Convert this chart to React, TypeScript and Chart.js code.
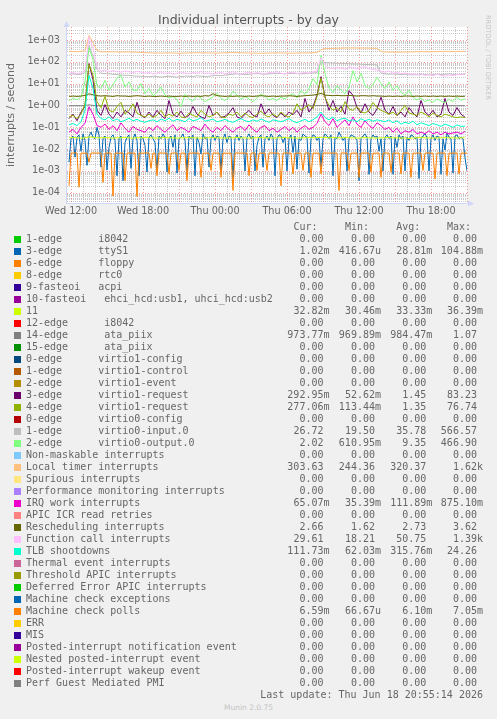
import React, { useEffect, useRef } from "react";
import { Chart, registerables } from "chart.js";

Chart.register(...registerables);

// ---- time axis (hours since Wed 00:00) ----
const X_MIN = 11 + 40 / 60; // Wed 11:40
const X_MAX = 45; // Thu 21:00
const TIME_START = 11 + 50 / 60; // first sample Wed 11:50
const STEP_HOURS = 1 / 3; // coarse series: one sample every 20 minutes
const FINE_STEP_HOURS = 1 / 6; // fine series: one sample every 10 minutes
const xTickHours = [12, 18, 24, 30, 36, 42];
const xTickLabels = ["Wed 12:00", "Wed 18:00", "Thu 00:00", "Thu 06:00", "Thu 12:00", "Thu 18:00"];

// ---- value axis ----
const Y_MIN = 3.4e-5;
const Y_MAX = 3.95e3;
const yTickValues = [1e-4, 1e-3, 1e-2, 1e-1, 1, 10, 100, 1000];
const yTickLabels = ["1e-04", "1e-03", "1e-02", "1e-01", "1e+00", "1e+01", "1e+02", "1e+03"];

// ---- series (interrupts / second) ----
// 10-minute samples
const ttyS1Values = [
  0.0025, 0.03, 0.04, 0.0043, 0.035, 0.045, 0.008, 0.05, 0.025, 0.0018,
  0.04, 0.06, 0.035, 0.03, 0.1, 0.045, 0.0015, 0.03, 0.04, 0.0011,
  0.012, 0.035, 0.045, 0.025, 0.0006, 0.03, 0.04, 0.00036, 0.02, 0.035,
  0.045, 0.0013, 0.03, 0.05, 0.025, 0.0006, 0.04, 0.03, 0.015, 0.0009,
  0.035, 0.045, 0.03, 0.02, 0.001, 0.04, 0.03, 0.05, 0.035, 0.0009,
  0.03, 0.04, 0.012, 0.045, 0.0008, 0.03, 0.035, 0.05, 0.025, 0.001,
  0.04, 0.03, 0.045, 0.0006, 0.035, 0.02, 0.006, 0.05, 0.03, 0.035,
  0.0015, 0.03, 0.045, 0.025, 0.04, 0.035, 0.001, 0.03, 0.05, 0.02,
  0.04, 0.035, 0.00045, 0.03, 0.045, 0.025, 0.04, 0.03, 0.001, 0.035,
  0.05, 0.03, 0.04, 0.001, 0.015, 0.035, 0.045, 0.0015, 0.03, 0.04,
  0.025, 0.05, 0.035, 0.0006, 0.03, 0.045, 0.04, 0.02, 0.035, 0.001,
  0.03, 0.045, 0.007, 0.04, 0.0012, 0.03, 0.025, 0.05, 0.04, 0.035,
  0.0008, 0.03, 0.045, 0.04, 0.025, 0.035, 0.0015, 0.03, 0.05, 0.04,
  0.03, 0.045, 0.0006, 0.035, 0.03, 0.06, 0.04, 0.025, 0.035, 0.001,
  0.03, 0.045, 0.04, 0.035, 0.025, 0.00036, 0.03, 0.04, 0.05, 0.035,
  0.0007, 0.03, 0.045, 0.035, 0.04, 0.008, 0.03, 0.001, 0.035, 0.045,
  0.03, 0.04, 0.0007, 0.035, 0.012, 0.045, 0.03, 0.04, 0.001, 0.035,
  0.025, 0.045, 0.04, 0.03, 0.035, 0.00045, 0.03, 0.04, 0.05, 0.035,
  0.001, 0.03, 0.045, 0.025, 0.04, 0.035, 0.0007, 0.03, 0.009, 0.055,
  0.035, 0.03, 0.0008, 0.04, 0.045, 0.03, 0.035, 0.03, 0.004, 0.00102,
];
const mcePollValues = [
  0.00021, 0.0066, 0.0066, 0.0067, 0.0066, 0.00018, 0.0066, 0.0066, 0.0065, 0.0066,
  0.0025, 0.0066, 0.0067, 0.0066, 0.0066, 0.0066, 0.0065, 0.0003, 0.0066, 0.0066,
  0.0067, 0.0066, 0.00007, 0.0066, 0.0066, 0.0065, 0.0066, 0.0066, 0.00036, 0.0066,
  0.0067, 0.0066, 0.0066, 0.0066, 0.000067, 0.0066, 0.0065, 0.0066, 0.0066, 0.0067,
  0.0066, 0.0013, 0.0066, 0.0066, 0.00061, 0.0066, 0.0067, 0.0066, 0.0066, 0.0065,
  0.00073, 0.0066, 0.0066, 0.0067, 0.0066, 0.00105, 0.0066, 0.0066, 0.0065, 0.00036,
  0.0066, 0.0066, 0.0067, 0.0066, 0.0066, 0.0066, 0.00051, 0.0066, 0.0065, 0.0066,
  0.0066, 0.00105, 0.0066, 0.0067, 0.0066, 0.0066, 0.00051, 0.0066, 0.0066, 0.0065,
  0.0066, 0.0066, 0.000127, 0.0066, 0.0067, 0.0066, 0.0066, 0.0066, 0.0065, 0.0066,
  0.00061, 0.0066, 0.0067, 0.0066, 0.00105, 0.0066, 0.0066, 0.0065, 0.0066, 0.00105,
  0.0066, 0.0067, 0.0066, 0.0066, 0.0066, 0.0065, 0.00021, 0.0066, 0.0066, 0.0067,
  0.0066, 0.0066, 0.00073, 0.0066, 0.0065, 0.0066, 0.0066, 0.00105, 0.0066, 0.0067,
  0.0066, 0.00051, 0.0066, 0.0066, 0.0065, 0.0066, 0.00073, 0.0066, 0.0067, 0.0066,
  0.0066, 0.0066, 0.0065, 0.0066, 0.0066, 0.000127, 0.0066, 0.0067, 0.0066, 0.0066,
  0.00105, 0.0066, 0.0065, 0.0066, 0.0066, 0.00051, 0.0066, 0.0067, 0.0066, 0.0066,
  0.0066, 0.00087, 0.0066, 0.0065, 0.0066, 0.0066, 0.00051, 0.0066, 0.0067, 0.0066,
  0.0066, 0.00087, 0.0066, 0.0065, 0.0066, 0.0066, 0.00073, 0.0066, 0.0067, 0.0066,
  0.0066, 0.00051, 0.0066, 0.0065, 0.0066, 0.0066, 0.0066, 0.00105, 0.0066, 0.0067,
  0.0066, 0.0066, 0.0065, 0.00043, 0.0066, 0.0066, 0.0067, 0.0066, 0.0066, 0.00061,
  0.0066, 0.0065, 0.0066, 0.0066, 0.0067, 0.00073, 0.0066, 0.0066, 0.0066, 0.00659,
];
// 20-minute samples
const irq11Values = [
  0.033, 0.034, 0.033, 0.032, 0.033, 0.0364, 0.035, 0.033, 0.033, 0.034,
  0.033, 0.032, 0.033, 0.033, 0.034, 0.033, 0.032, 0.033, 0.033, 0.034,
  0.033, 0.033, 0.032, 0.033, 0.034, 0.033, 0.033, 0.032, 0.033, 0.033,
  0.034, 0.033, 0.033, 0.032, 0.033, 0.033, 0.034, 0.033, 0.033, 0.032,
  0.033, 0.033, 0.034, 0.033, 0.033, 0.032, 0.033, 0.033, 0.034, 0.033,
  0.033, 0.032, 0.033, 0.033, 0.034, 0.033, 0.033, 0.032, 0.033, 0.033,
  0.034, 0.033, 0.034, 0.035, 0.034, 0.033, 0.034, 0.033, 0.033, 0.034,
  0.033, 0.033, 0.032, 0.033, 0.034, 0.033, 0.033, 0.032, 0.033, 0.033,
  0.034, 0.033, 0.033, 0.032, 0.033, 0.0305, 0.033, 0.033, 0.034, 0.033,
  0.033, 0.032, 0.033, 0.033, 0.034, 0.033, 0.033, 0.032, 0.033, 0.0328,
];
const ataPiixValues = [
  0.98, 0.98, 0.98, 0.98, 0.99, 1.07, 1.0, 0.98, 0.98, 0.98,
  0.98, 0.98, 0.98, 0.97, 0.98, 0.98, 0.98, 0.98, 0.98, 0.98,
  0.98, 0.97, 0.98, 0.98, 0.98, 0.98, 0.98, 0.98, 0.97, 0.98,
  0.98, 0.98, 0.98, 0.98, 0.98, 0.98, 0.98, 0.98, 0.98, 0.97,
  0.98, 0.98, 0.98, 0.98, 0.98, 0.98, 0.98, 0.98, 0.98, 0.98,
  0.98, 0.98, 0.97, 0.98, 0.98, 0.98, 0.98, 0.98, 0.98, 0.98,
  0.98, 0.98, 0.99, 1.0, 0.99, 0.98, 0.98, 0.98, 0.98, 0.98,
  0.98, 0.98, 0.98, 0.98, 0.98, 0.98, 0.98, 0.98, 0.98, 0.97,
  0.98, 0.98, 0.98, 0.98, 0.98, 0.98, 0.98, 0.98, 0.98, 0.98,
  0.98, 0.98, 0.98, 0.97, 0.98, 0.98, 0.98, 0.98, 0.98, 0.974,
];
const virtio1Req3Values = [
  0.25, 0.4, 0.2, 0.5, 0.9, 83, 15, 0.6,
  0.35, 1.1, 0.4, 0.25, 0.5, 0.3, 0.6, 0.45, 0.3, 1.4, 0.35,
  0.28, 0.5, 0.3, 0.6, 0.35, 0.25, 1.7, 0.4, 0.3, 0.55,
  0.28, 0.35, 0.9, 0.4, 0.3, 0.25, 1.0, 0.35, 0.5, 0.28,
  0.32, 0.45, 0.8, 0.3, 0.25, 0.4, 0.6, 0.35, 0.3, 1.2,
  0.4, 0.7, 0.35, 0.28, 0.45, 0.3, 0.5, 0.38, 0.6, 0.3,
  2.1, 0.5, 0.9, 3, 21,
  2.5, 0.6, 1.7, 0.5, 0.9, 0.4, 4.8, 2.9, 0.8, 0.45, 1.2, 0.5, 0.35, 0.7,
  2.4, 0.6, 0.4, 0.9, 0.35, 0.5, 0.3, 0.8, 0.45, 0.3,
  1.7, 0.5, 0.35, 0.6, 0.3, 0.4, 2.1, 0.5, 0.35, 0.8, 0.4, 0.29,
];
const virtio1Req4Values = [
  0.3, 0.35, 0.25, 0.4, 1.2, 76, 25, 1.5,
  0.8, 2.6, 0.6, 0.5, 0.9, 1.4, 0.4, 0.6, 1.2, 0.45, 0.35,
  0.3, 0.4, 0.28, 0.35, 0.6, 0.3, 0.4, 0.32, 0.5, 0.3,
  0.27, 0.45, 0.35, 0.3, 0.6, 0.4, 0.3, 0.35, 0.5, 0.3,
  0.28, 0.4, 0.35, 0.5, 0.3, 0.45, 0.32, 0.28, 0.4, 0.55,
  0.35, 0.3, 0.42, 0.3, 0.5, 0.35, 0.3, 0.45, 1.2, 0.6,
  0.8, 1.1, 0.7, 2.5, 18,
  2.3, 1.0, 0.6, 0.8, 0.5, 1.5, 0.7, 0.6, 0.9, 0.5, 0.45, 0.6, 1.4, 0.8,
  0.6, 0.5, 0.4, 0.5, 0.35, 0.6, 1.0, 0.45, 0.4, 0.35,
  0.5, 0.4, 0.3, 0.45, 0.35, 0.3, 0.4, 0.35, 0.3, 0.28, 0.3, 0.277,
];
const virtio0InputValues = [
  27, 28, 26, 27, 32, 566, 180, 45,
  30, 29, 28, 27, 26, 25, 24, 24, 23, 22, 22,
  21, 21, 22, 21, 20, 21, 22, 21, 20, 21,
  22, 22, 21, 23, 22, 21, 22, 23, 24, 23,
  25, 26, 27, 28, 27, 26, 27, 28, 29, 28,
  27, 28, 29, 30, 29, 28, 29, 30, 29, 28,
  29, 30, 31, 32, 100,
  92, 90, 88, 86, 85, 84, 82, 80, 80, 78, 76, 75, 74, 72,
  30, 28, 27, 28, 27, 26, 27, 26, 25, 26,
  27, 26, 25, 26, 27, 26, 27, 28, 27, 26, 27, 26.7,
];
const virtio0OutputValues = [
  1.6, 2.2, 1.8, 2.5, 12, 466, 120, 8,
  6, 14, 5, 9, 18, 24, 7, 12, 5, 5, 10,
  3.5, 6, 2.8, 4, 7, 3, 2.2, 2.6, 1.8, 0.9,
  3.2, 2, 1.6, 2.8, 2.2, 1.5, 1.9, 2.5, 3.6, 2.1,
  1.7, 2.3, 4.5, 3, 1.9, 2.6, 2, 1.5, 2.2, 3.4,
  2.6, 1.8, 2.1, 1.7, 2.4, 2, 2.8, 3.5, 2.2, 4.8,
  3.2, 6, 17, 9, 200,
  30, 6, 4, 8, 5, 3.5, 7, 40, 12, 30, 8, 6, 9, 20,
  10, 6, 12, 5, 8, 4, 3, 5, 2.4, 1.8,
  2.2, 1.5, 1.8, 1.4, 2, 1.6, 1.3, 1.9, 1.5, 2.4, 1.7, 2.02,
];
const localTimerValues = [
  300, 296, 292, 298, 320, 1620, 760, 330,
  290, 286, 288, 292, 284, 280, 286, 282, 278, 276, 270,
  262, 258, 255, 252, 250, 254, 256, 252, 250, 248,
  252, 256, 258, 262, 260, 258, 256, 252, 250, 254,
  258, 262, 266, 264, 260, 256, 254, 250, 248, 246,
  250, 252, 255, 258, 256, 252, 250, 248, 252, 254,
  256, 258, 262, 265, 360,
  400, 410, 415, 420, 425, 428, 430, 432, 430, 428, 426, 424, 420, 415,
  300, 285, 280, 278, 276, 280, 282, 285, 288, 290,
  292, 290, 288, 292, 295, 298, 300, 302, 298, 300, 302, 303.6,
];
const irqWorkValues = [
  0.06, 0.08, 0.05, 0.1, 0.15, 0.875, 0.4, 0.12,
  0.1, 0.14, 0.08, 0.12, 0.07, 0.16, 0.09, 0.06, 0.11, 0.08, 0.07,
  0.06, 0.1, 0.07, 0.12, 0.08, 0.06, 0.09, 0.13, 0.07, 0.1,
  0.08, 0.06, 0.11, 0.09, 0.07, 0.14, 0.08, 0.06, 0.1, 0.07,
  0.12, 0.08, 0.06, 0.09, 0.11, 0.07, 0.13, 0.08, 0.06, 0.1,
  0.12, 0.07, 0.09, 0.06, 0.08, 0.11, 0.07, 0.1, 0.06, 0.09,
  0.12, 0.08, 0.1, 0.15, 0.4,
  0.18, 0.12, 0.25, 0.1, 0.15, 0.22, 0.12, 0.3, 0.14, 0.1, 0.2, 0.12, 0.09, 0.16,
  0.12, 0.08, 0.1, 0.06, 0.09, 0.05, 0.07, 0.06, 0.08, 0.05,
  0.06, 0.05, 0.07, 0.05, 0.06, 0.045, 0.06, 0.05, 0.055, 0.06, 0.05, 0.065,
];
const reschedValues = [
  2.6, 2.7, 2.6, 2.7, 2.9, 3.4, 3.1, 2.8,
  2.7, 2.8, 2.7, 2.6, 2.8, 2.7, 2.7, 2.6, 2.7, 2.8, 2.7,
  2.6, 2.7, 2.6, 2.6, 2.7, 2.6, 2.7, 2.6, 2.6, 2.7,
  2.6, 2.7, 2.6, 2.7, 2.6, 2.8, 2.7, 3.5, 2.8, 2.7,
  2.6, 2.7, 2.6, 2.7, 2.7, 2.6, 2.7, 2.6, 2.7, 2.8,
  2.7, 2.6, 2.7, 2.6, 2.7, 2.7, 2.8, 2.7, 2.6, 2.7,
  2.8, 2.9, 3.0, 3.2, 3.6,
  3.0, 2.9, 2.8, 2.9, 2.8, 2.8, 2.9, 2.8, 2.7, 2.8, 2.8, 2.7, 2.8, 2.7,
  2.7, 2.6, 2.7, 2.6, 2.7, 2.6, 2.7, 2.7, 2.6, 2.7,
  2.6, 2.7, 2.6, 2.7, 2.6, 2.7, 2.6, 2.7, 2.6, 2.7, 2.6, 2.66,
];
const funcCallValues = [
  30, 34, 28, 32, 40, 1390, 420, 60,
  38, 42, 35, 40, 36, 33, 38, 35, 32, 36, 34,
  30, 33, 28, 31, 35, 29, 32, 27, 30, 34,
  31, 28, 33, 30, 36, 29, 31, 27, 30, 33,
  28, 32, 35, 30, 27, 31, 34, 29, 32, 30,
  28, 33, 31, 36, 30, 28, 32, 34, 29, 31,
  33, 30, 35, 38, 160,
  70, 52, 48, 55, 50, 46, 58, 52, 48, 55, 60, 50, 45, 42,
  36, 33, 38, 30, 34, 28, 31, 27, 30, 25,
  28, 24, 26, 23, 27, 24, 22, 25, 23, 27, 25, 29.6,
];
const tlbValues = [
  0.13, 0.15, 0.12, 0.18, 0.6, 24, 6, 0.4,
  0.25, 0.22, 0.3, 0.2, 0.24, 0.18, 0.21, 0.26, 0.2, 0.23, 0.19,
  0.17, 0.2, 0.22, 0.18, 0.24, 0.2, 0.26, 0.19, 0.23, 0.21,
  0.18, 0.25, 0.2, 0.22, 0.28, 0.19, 0.21, 0.24, 0.18, 0.2,
  0.23, 0.19, 0.17, 0.21, 0.25, 0.2, 0.18, 0.22, 0.19, 0.24,
  0.2, 0.17, 0.22, 0.2, 0.18, 0.21, 0.25, 0.19, 0.16, 0.2,
  0.23, 0.18, 0.22, 0.3, 0.5,
  0.28, 0.22, 0.3, 0.2, 0.24, 0.26, 0.2, 0.22, 0.18, 0.25, 0.2, 0.23, 0.19, 0.22,
  0.2, 0.18, 0.22, 0.16, 0.2, 0.14, 0.17, 0.15, 0.19, 0.13,
  0.16, 0.14, 0.12, 0.15, 0.13, 0.11, 0.14, 0.12, 0.1, 0.13, 0.11, 0.112,
];

// ---- legend ----
const legendLabels = [
  "1-edge      i8042",
  "3-edge      ttyS1",
  "6-edge      floppy",
  "8-edge      rtc0",
  "9-fasteoi   acpi",
  "10-fasteoi   ehci_hcd:usb1, uhci_hcd:usb2",
  "11",
  "12-edge      i8042",
  "14-edge      ata_piix",
  "15-edge      ata_piix",
  "0-edge      virtio1-config",
  "1-edge      virtio1-control",
  "2-edge      virtio1-event",
  "3-edge      virtio1-request",
  "4-edge      virtio1-request",
  "0-edge      virtio0-config",
  "1-edge      virtio0-input.0",
  "2-edge      virtio0-output.0",
  "Non-maskable interrupts",
  "Local timer interrupts",
  "Spurious interrupts",
  "Performance monitoring interrupts",
  "IRQ work interrupts",
  "APIC ICR read retries",
  "Rescheduling interrupts",
  "Function call interrupts",
  "TLB shootdowns",
  "Thermal event interrupts",
  "Threshold APIC interrupts",
  "Deferred Error APIC interrupts",
  "Machine check exceptions",
  "Machine check polls",
  "ERR",
  "MIS",
  "Posted-interrupt notification event",
  "Nested posted-interrupt event",
  "Posted-interrupt wakeup event",
  "Perf Guest Mediated PMI",
];
const legendColors = [
  "#00CC00", "#0066B3", "#FF8000", "#FFCC00", "#330099", "#990099", "#CCFF00", "#FF0000",
  "#808080", "#008F00", "#00487D", "#B35A00", "#B38F00", "#6B006B", "#8FB300", "#B30000",
  "#BEBEBE", "#80FF80", "#80C9FF", "#FFC080", "#FFE680", "#AA80FF", "#EE00CC", "#FF8080",
  "#666600", "#FFBFFF", "#00FFCC", "#CC6699", "#999900", "#00CC00", "#0066B3", "#FF8000",
  "#FFCC00", "#330099", "#990099", "#CCFF00", "#FF0000", "#808080",
];
const curValues = [
  "0.00", "1.02m", "0.00", "0.00", "0.00", "0.00", "32.82m", "0.00", "973.77m", "0.00",
  "0.00", "0.00", "0.00", "292.95m", "277.06m", "0.00", "26.72", "2.02", "0.00", "303.63",
  "0.00", "0.00", "65.07m", "0.00", "2.66", "29.61", "111.73m", "0.00", "0.00", "0.00",
  "0.00", "6.59m", "0.00", "0.00", "0.00", "0.00", "0.00", "0.00",
];
const minValues = [
  "0.00", "416.67u", "0.00", "0.00", "0.00", "0.00", "30.46m", "0.00", "969.89m", "0.00",
  "0.00", "0.00", "0.00", "52.62m", "113.44m", "0.00", "19.50", "610.95m", "0.00", "244.36",
  "0.00", "0.00", "35.39m", "0.00", "1.62", "18.21", "62.03m", "0.00", "0.00", "0.00",
  "0.00", "66.67u", "0.00", "0.00", "0.00", "0.00", "0.00", "0.00",
];
const avgValues = [
  "0.00", "28.81m", "0.00", "0.00", "0.00", "0.00", "33.33m", "0.00", "984.47m", "0.00",
  "0.00", "0.00", "0.00", "1.45", "1.35", "0.00", "35.78", "9.35", "0.00", "320.37",
  "0.00", "0.00", "111.89m", "0.00", "2.73", "50.75", "315.76m", "0.00", "0.00", "0.00",
  "0.00", "6.10m", "0.00", "0.00", "0.00", "0.00", "0.00", "0.00",
];
const maxValues = [
  "0.00", "104.88m", "0.00", "0.00", "0.00", "0.00", "36.39m", "0.00", "1.07", "0.00",
  "0.00", "0.00", "0.00", "83.23", "76.74", "0.00", "566.57", "466.90", "0.00", "1.62k",
  "0.00", "0.00", "875.10m", "0.00", "3.62", "1.39k", "24.26", "0.00", "0.00", "0.00",
  "0.00", "7.05m", "0.00", "0.00", "0.00", "0.00", "0.00", "0.00",
];
const columnHeaders = ["Cur:", "Min:", "Avg:", "Max:"];

// plotted series (legend index -> values), in rrdtool drawing order
const plottedSeries = [
  { idx: 1, values: ttyS1Values, step: FINE_STEP_HOURS },
  { idx: 6, values: irq11Values, step: STEP_HOURS },
  { idx: 8, values: ataPiixValues, step: STEP_HOURS },
  { idx: 13, values: virtio1Req3Values, step: STEP_HOURS },
  { idx: 14, values: virtio1Req4Values, step: STEP_HOURS },
  { idx: 16, values: virtio0InputValues, step: STEP_HOURS },
  { idx: 17, values: virtio0OutputValues, step: STEP_HOURS },
  { idx: 19, values: localTimerValues, step: STEP_HOURS },
  { idx: 22, values: irqWorkValues, step: STEP_HOURS },
  { idx: 24, values: reschedValues, step: STEP_HOURS },
  { idx: 25, values: funcCallValues, step: STEP_HOURS },
  { idx: 26, values: tlbValues, step: STEP_HOURS },
  { idx: 31, values: mcePollValues, step: FINE_STEP_HOURS },
];

const FONT = "DejaVu Sans, sans-serif";
const MONO = "DejaVu Sans Mono, monospace";
const TEXT = "#666666";

const valueEdges = [329.5, 381, 432.3, 483];
const ROW0 = 239.4;
const ROW_H = 12;

export default function App() {
  const canvasRef = useRef<HTMLCanvasElement | null>(null);

  useEffect(() => {
    const canvas = canvasRef.current;
    if (!canvas) return;

    const datasets = plottedSeries.map((s, k) => ({
      label: legendLabels[s.idx],
      data: s.values.map((v, i) => ({ x: TIME_START + i * s.step, y: v })),
      borderColor: legendColors[s.idx],
      backgroundColor: legendColors[s.idx],
      borderWidth: 1,
      pointRadius: 0,
      fill: false,
      tension: 0,
      order: plottedSeries.length - k,
    }));

    const gridPlugin = {
      id: "rrdGrid",
      beforeDatasetsDraw(chart: any) {
        const { ctx, chartArea: a, scales } = chart;
        const xs = scales.x;
        const ys = scales.y;
        ctx.save();
        ctx.fillStyle = "#FFFFFF";
        ctx.fillRect(a.left, a.top, a.right - a.left, a.bottom - a.top);
        ctx.lineWidth = 1;
        ctx.setLineDash([1, 1]);
        ctx.strokeStyle = "rgba(150,150,150,0.5)";
        for (let e = -5; e <= 3; e++) {
          for (let m = 2; m <= 9; m++) {
            const v = m * Math.pow(10, e);
            if (v < Y_MIN || v > Y_MAX) continue;
            const y = Math.round(ys.getPixelForValue(v)) + 0.5;
            ctx.beginPath();
            ctx.moveTo(a.left, y);
            ctx.lineTo(a.right, y);
            ctx.stroke();
          }
        }
        for (let h = Math.ceil(X_MIN); h <= X_MAX; h++) {
          if (h % 3 === 0) continue;
          const x = Math.round(xs.getPixelForValue(h)) + 0.5;
          ctx.beginPath();
          ctx.moveTo(x, a.top);
          ctx.lineTo(x, a.bottom);
          ctx.stroke();
        }
        ctx.setLineDash([1, 2]);
        ctx.strokeStyle = "rgba(240,90,90,0.6)";
        for (const v of yTickValues) {
          const y = Math.round(ys.getPixelForValue(v)) + 0.5;
          ctx.beginPath();
          ctx.moveTo(a.left, y);
          ctx.lineTo(a.right, y);
          ctx.stroke();
        }
        for (let h = Math.ceil(X_MIN); h <= X_MAX; h++) {
          if (h % 3 !== 0) continue;
          const x = Math.round(xs.getPixelForValue(h)) + 0.5;
          ctx.beginPath();
          ctx.moveTo(x, a.top);
          ctx.lineTo(x, a.bottom);
          ctx.stroke();
        }
        ctx.restore();
      },
      afterDatasetsDraw(chart: any) {
        const { ctx, chartArea: a } = chart;
        ctx.save();
        ctx.setLineDash([]);
        ctx.strokeStyle = "#CFD6F8";
        ctx.fillStyle = "#CFD6F8";
        ctx.lineWidth = 1;
        const ax = a.left - 0.5;
        const ay = a.bottom + 0.5;
        ctx.beginPath();
        ctx.moveTo(ax, ay);
        ctx.lineTo(ax, a.top - 1);
        ctx.moveTo(a.left - 1, ay);
        ctx.lineTo(a.right + 2, ay);
        ctx.stroke();
        ctx.beginPath();
        ctx.moveTo(ax - 3, a.top);
        ctx.lineTo(ax + 3, a.top);
        ctx.lineTo(ax, a.top - 6);
        ctx.closePath();
        ctx.fill();
        ctx.beginPath();
        ctx.moveTo(a.right + 1, ay - 3);
        ctx.lineTo(a.right + 1, ay + 3);
        ctx.lineTo(a.right + 7, ay);
        ctx.closePath();
        ctx.fill();
        ctx.restore();
      },
    };

    const chart = new Chart(canvas, {
      type: "line",
      data: { datasets },
      options: {
        responsive: false,
        animation: false,
        devicePixelRatio: 1,
        layout: { padding: { left: 0, right: 30, top: 27, bottom: 0 } },
        plugins: {
          legend: { display: false },
          tooltip: { enabled: false },
          title: { display: false },
        },
        scales: {
          x: {
            type: "linear",
            min: X_MIN,
            max: X_MAX,
            bounds: "data",
            grid: { display: false, drawTicks: false },
            border: { display: false },
            afterBuildTicks: (s: any) => {
              s.ticks = xTickHours.map((v) => ({ value: v }));
            },
            afterFit: (s: any) => {
              s.height = 19;
            },
            ticks: {
              autoSkip: false,
              maxRotation: 0,
              padding: 3,
              color: TEXT,
              font: { family: FONT, size: 9.7 },
              callback: (v: any) => {
                const k = xTickHours.indexOf(Number(v));
                return k >= 0 ? xTickLabels[k] : "";
              },
            },
          },
          y: {
            type: "logarithmic",
            min: Y_MIN,
            max: Y_MAX,
            bounds: "data",
            grid: { display: false, drawTicks: false },
            border: { display: false },
            afterBuildTicks: (s: any) => {
              s.ticks = yTickValues.map((v) => ({ value: v }));
            },
            afterFit: (s: any) => {
              s.width = 67;
            },
            ticks: {
              padding: 7,
              color: TEXT,
              font: { family: FONT, size: 9.7 },
              callback: (v: any) => {
                const k = yTickValues.findIndex((t) => Math.abs(t - Number(v)) / t < 1e-6);
                return k >= 0 ? yTickLabels[k] : "";
              },
            },
          },
        },
      } as any,
      plugins: [gridPlugin],
    });
    return () => chart.destroy();
  }, []);

  const mono: React.CSSProperties = {
    position: "absolute",
    fontFamily: MONO,
    fontSize: 10,
    lineHeight: "12px",
    color: TEXT,
    whiteSpace: "pre",
  };

  return (
    <div
      style={{
        position: "fixed",
        left: 0,
        top: 0,
        width: 497,
        height: 719,
        background: "#F0F0F0",
        overflow: "hidden",
      }}
    >
      <canvas ref={canvasRef} width={497} height={222} style={{ position: "absolute", left: 0, top: 0 }} />
      <div
        style={{
          position: "absolute",
          left: 0,
          top: 12,
          width: 497,
          textAlign: "center",
          fontFamily: FONT,
          fontSize: 12.5,
          lineHeight: "15px",
          color: "#555555",
          whiteSpace: "pre",
        }}
      >
        Individual interrupts - by day
      </div>
      <div
        style={{
          position: "absolute",
          left: 10.5 - 80,
          top: 115 - 7,
          width: 160,
          height: 14,
          lineHeight: "14px",
          textAlign: "center",
          fontFamily: FONT,
          fontSize: 11,
          color: TEXT,
          transform: "rotate(-90deg)",
          whiteSpace: "pre",
        }}
      >
        interrupts / second
      </div>
      <div
        style={{
          position: "absolute",
          left: 484,
          top: 15,
          writingMode: "vertical-rl",
          fontFamily: FONT,
          fontSize: 6.6,
          lineHeight: "8px",
          color: "#C4C4C4",
          whiteSpace: "pre",
        }}
      >
        RRDTOOL / TOBI OETIKER
      </div>

      {columnHeaders.map((h, c) => (
        <div key={h} style={{ ...mono, right: 497 - (valueEdges[c] - 12), top: ROW0 - ROW_H - 6 }}>
          {h}
        </div>
      ))}

      {legendLabels.map((lab, i) => {
        const cy = ROW0 + i * ROW_H;
        const cells = [curValues[i], minValues[i], avgValues[i], maxValues[i]];
        return (
          <React.Fragment key={i}>
            <div
              style={{
                position: "absolute",
                left: 14,
                top: cy - 3.5,
                width: 7,
                height: 7,
                background: legendColors[i],
              }}
            />
            <div style={{ ...mono, left: 26, top: cy - 6 }}>{lab}</div>
            {cells.map((val, c) => (
              <div key={c} style={{ ...mono, right: 497 - valueEdges[c], top: cy - 6 }}>
                {/[a-zA-Z]$/.test(val) ? val : val + " "}
              </div>
            ))}
          </React.Fragment>
        );
      })}

      <div style={{ ...mono, right: 497 - 483, top: ROW0 + legendLabels.length * ROW_H - 6 }}>
        Last update: Thu Jun 18 20:55:14 2026
      </div>
      <div
        style={{
          position: "absolute",
          left: 0,
          width: 497,
          top: 703,
          textAlign: "center",
          fontFamily: FONT,
          fontSize: 7.5,
          lineHeight: "10px",
          color: "#C4C4C4",
          whiteSpace: "pre",
        }}
      >
        Munin 2.0.75
      </div>
    </div>
  );
}
